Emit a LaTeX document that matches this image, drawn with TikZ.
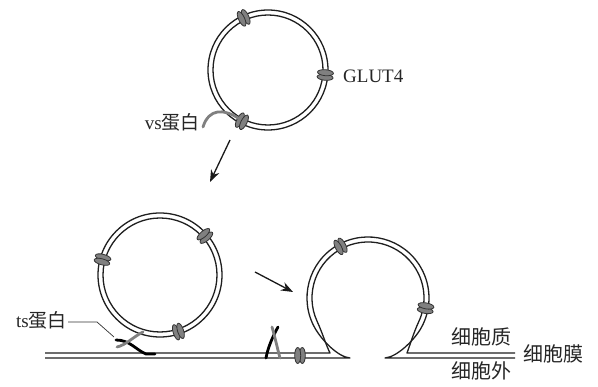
\documentclass[tikz,border=0pt]{standalone}
\usepackage{fontspec}
\setmainfont{Liberation Serif}
\newfontfamily\cjk{Noto Sans CJK SC}
\usetikzlibrary{arrows.meta,calc}
\begin{document}
\begin{tikzpicture}[x=1pt,y=1pt,
  mem/.style={line width=1.3pt, draw=black!88, line join=round},
  ptr/.style={line width=1.3pt, draw=black!90, -{Stealth[length=12pt,width=9pt]}},
  lbl/.style={inner sep=0pt, text=black!85, font=\fontsize{19}{21}\selectfont},
  cjklbl/.style={inner sep=0pt, text=black!85, font=\cjk\fontsize{20}{22}\selectfont},
  linker/.style={line width=2.8pt, line cap=round},
  glut/.pic={
    \foreach \s in {-2.3,2.3}
      \draw[fill=black!50, draw=black!80, line width=0.8pt]
        (0,\s) ellipse [x radius=8, y radius=3];
  }]
\useasboundingbox (0,0) rectangle (598,387);

% vesicle centres
\coordinate (vt) at (268,317);
\coordinate (vm) at (160,112);
\coordinate (vr) at (368,89);

% plasma membrane with the fused vesicle (omega shape)
\draw[mem] (45,34) -- (330,34)
  .. controls (326,42) and (322.3,54.4) .. ($(vr)+(205:56)$)
  arc[start angle=205, end angle=-25, radius=56]
  .. controls (413.7,54.5) and (410,42) .. (407,34) -- (515,34);
\draw[mem] (45,29) -- (350,29)
  .. controls (338,30) and (322.2,46.4) .. ($(vr)+(210:61)$)
  arc[start angle=210, end angle=-30, radius=61]
  .. controls (413.8,46.4) and (397,30) .. (385,29) -- (515,29);

% free vesicle at the top
\draw[mem] (vt) circle[radius=60] (vt) circle[radius=55];
% docking vesicle
\draw[mem] (vm) circle[radius=62] (vm) circle[radius=57];

% GLUT4 proteins
\foreach \a in {115,-5,-117}
  \path (vt) ++(\a:57.5) pic[rotate=\a] {glut};
\foreach \a in {41,165,-72}
  \path (vm) ++(\a:59.5) pic[rotate=\a] {glut};
\foreach \a in {118,-10}
  \path (vr) ++(\a:58.5) pic[rotate=\a] {glut};
\path (300,31.5) pic[rotate=90] {glut};

% vs protein on the top vesicle
\draw[linker, black!50] (203,260) .. controls (209,279) and (224,278) .. (238,269);

% ts / vs pairing at the docking vesicle
\draw[linker, black] (116,47) .. controls (130,47) and (136,37) .. (146,33) -- (155,33);
\draw[linker, black!50] (143,55) .. controls (133,50) and (126,42) .. (117,40);

% paired proteins on the membrane
\draw[linker, black] (266,29) .. controls (268,40) and (273,51) .. (278,60);
\draw[linker, black!50] (272,60) .. controls (275,50) and (277,40) .. (280,29);

% labels
\node[lbl, anchor=west] (glutlbl) at (343,311) {GLUT4};
\node[lbl, anchor=east] (vslbl) at (200,265) {vs{\cjk 蛋白}};
\node[lbl, anchor=east] (tslbl) at (67,67) {ts{\cjk 蛋白}};
\coordinate (tsbend) at (97,65);
\coordinate (tsend) at (114,50);
\draw[line width=0.7pt, black!80] (tslbl.east) ++(1,-2) -- (tsbend) -- (tsend);

\node[cjklbl] (cyto) at (481,50) {细胞质};
\node[cjklbl] (pm) at (553,33) {细胞膜};
\node[cjklbl] (extra) at (481,16) {细胞外};

% arrows
\coordinate (a1s) at (230,247);
\coordinate (a1e) at (210,205);
\coordinate (a2s) at (255,115);
\coordinate (a2e) at (293,95);
\draw[ptr] (a1s) -- (a1e);
\draw[ptr] (a2s) -- (a2e);
\end{tikzpicture}
\end{document}
